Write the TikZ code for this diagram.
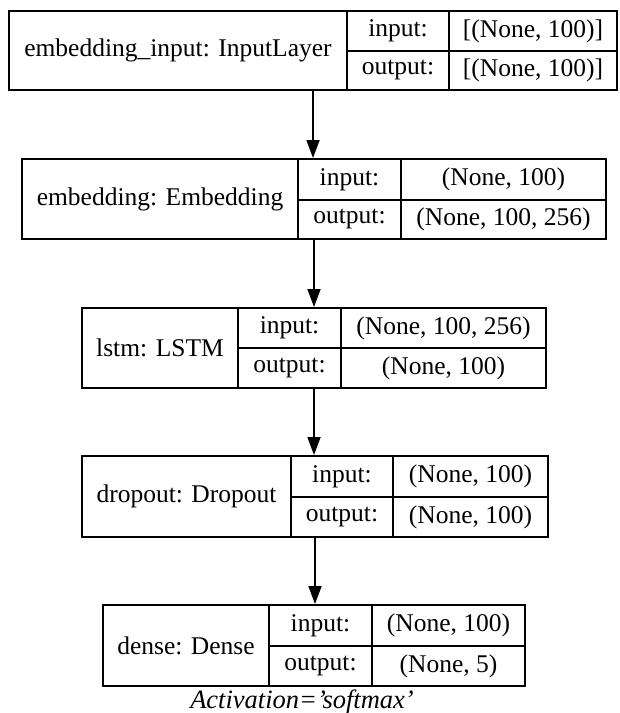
\documentclass[tikz,border=0pt]{standalone}
\usepackage{fontspec}
\setmainfont{Liberation Serif}
\usetikzlibrary{arrows.meta}

\tikzset{
  cellbox/.style={draw, line width=1.8pt, inner sep=0pt, anchor=center,
    font=\fontsize{25.5}{30}\selectfont},
  layerbox/.style={draw, line width=2pt, inner sep=0pt, anchor=center},
  flow/.style={line width=1.8pt, -{Triangle[length=18pt,width=13pt]}},
  note/.style={inner sep=0pt, font=\fontsize{26.5}{30}\selectfont\itshape}
}

% a rectangular cell given by its corners (x0,y0)-(x1,y1), y growing downwards
\newcommand\tabcell[7][cellbox]{%
  \pgfmathsetmacro\cellw{#5-#3}\pgfmathsetmacro\cellh{#6-#4}%
  \node[#1, minimum width=\cellw pt, minimum height=\cellh pt]
    (#2) at ({(#3+#5)/2},{(#4+#6)/2}) {#7};}

% one layer: name, x0, label divider, value divider, x1, y0, ymid, y1, title
\newcommand\layerrow[9]{%
  \tabcell[layerbox]{#1}{#2}{#6}{#5}{#8}{}%
  \tabcell{#1n}{#2}{#6}{#3}{#8}{#9}%
  \tabcell{#1il}{#3}{#6}{#4}{#7}{input:}%
  \tabcell{#1ol}{#3}{#7}{#4}{#8}{output:}%
  \layervalues{#1}{#4}{#5}{#6}{#7}{#8}}
\newcommand\layervalues[6]{%
  \tabcell{#1iv}{#2}{#4}{#3}{#5}{\lrin}%
  \tabcell{#1ov}{#2}{#5}{#3}{#6}{\lrout}}

\newcommand\sq{\char"27\relax}

\begin{document}
\begin{tikzpicture}[x=1pt,y=-1pt]
  \useasboundingbox (0,0) rectangle (620,713);

  \def\lrin{[(None, 100)]}\def\lrout{[(None, 100)]}
  \layerrow{a}{9}{347}{449}{617}{11}{51}{90}{embedding\_input: InputLayer}

  \def\lrin{(None, 100)}\def\lrout{(None, 100, 256)}
  \layerrow{b}{22}{298}{401}{606}{159}{200}{239}{embedding: Embedding}

  \def\lrin{(None, 100, 256)}\def\lrout{(None, 100)}
  \layerrow{c}{82}{238}{341}{546}{308}{348}{388}{lstm: LSTM}

  \def\lrin{(None, 100)}\def\lrout{(None, 100)}
  \layerrow{d}{82}{291}{393}{548}{456}{497}{537}{dropout: Dropout}

  \def\lrin{(None, 100)}\def\lrout{(None, 5)}
  \layerrow{e}{103}{269}{372}{525}{605}{646}{686}{dense: Dense}

  \node[note, anchor=base] (act) at (302,708) {Activation=\sq softmax\sq};

  \draw[flow] (a.south) -- (a.south |- b.north);
  \draw[flow] (b.south) -- (b.south |- c.north);
  \draw[flow] (c.south) -- (c.south |- d.north);
  \draw[flow] (d.south) -- (d.south |- e.north);
\end{tikzpicture}
\end{document}
